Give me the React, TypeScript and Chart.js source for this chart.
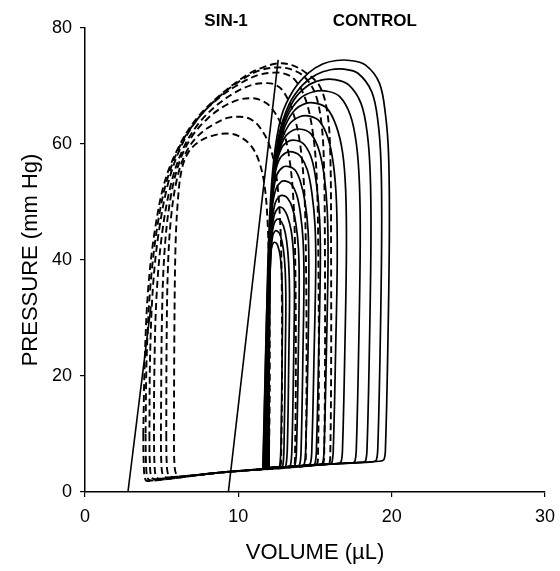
import React, { useEffect, useRef } from "react";
import { Chart, registerables } from "chart.js";
Chart.register(...registerables);

type Pt = [number, number];

// Axis settings / text
const X_RANGE = [0, 30];
const Y_RANGE = [0, 80];
const X_STEP = 10;
const Y_STEP = 20;
const X_TITLE = "VOLUME (µL)";
const Y_TITLE = "PRESSURE (mm Hg)";
const GROUP_LABELS = ["SIN-1", "CONTROL"];
const GROUP_LABEL_V = [9.2, 18.9];

// Control pressure-volume loops (solid): [volume µL, pressure mmHg]
const CONTROL_LOOPS: Pt[][] = [
  [[11.6,4.0],[15,4.7],[19.2,5.3],[19.5,5.6],[19.6,8],[19.75,25],[19.85,45],[19.8,58],[19.6,65],[19.2,70.5],[18.3,73.6],[17.3,74.4],[16.4,74.4],[15.5,73.8],[14.6,72.3],[13.6,69.3],[12.8,64.7],[12.3,57],[12.0,45],[11.8,25],[11.65,8],[11.6,4.0]],
  [[11.6,4.0],[15,4.7],[18.75,5.2],[19.0,5.5],[19.1,8],[19.25,25],[19.35,45],[19.3,57],[19.1,64],[18.7,69],[17.8,72.2],[16.9,72.9],[16.0,72.8],[15.1,72.0],[14.2,70.2],[13.3,66.8],[12.6,61],[12.2,52],[11.9,35],[11.7,15],[11.6,4.0]],
  [[11.7,4.0],[15,4.7],[18.05,5.1],[18.3,5.4],[18.4,8],[18.55,25],[18.65,44],[18.6,55],[18.4,62],[18.0,67],[17.2,70.2],[16.3,71.1],[15.4,71.0],[14.5,70.0],[13.6,67.5],[12.8,62.5],[12.3,54],[12.0,40],[11.8,20],[11.7,4.0]],
  [[11.7,4.0],[15,4.7],[17.35,5.0],[17.6,5.3],[17.7,8],[17.85,25],[17.95,43],[17.9,53],[17.7,60],[17.3,65],[16.6,68.2],[15.8,69.1],[14.9,69.0],[14.0,67.8],[13.2,64.8],[12.6,59.5],[12.2,50],[11.95,35],[11.8,18],[11.7,4.0]],
  [[11.8,4.1],[14.5,4.6],[16.45,4.9],[16.7,5.2],[16.8,8],[16.95,25],[17.05,42],[17.0,52],[16.8,58.5],[16.4,63],[15.8,66.1],[15.1,67.0],[14.4,67.0],[13.6,65.6],[12.9,62],[12.4,55.5],[12.1,45],[11.9,28],[11.8,4.1]],
  [[11.8,4.1],[14.5,4.6],[15.85,4.8],[16.1,5.1],[16.2,8],[16.35,25],[16.45,40],[16.4,50],[16.2,56.5],[15.85,61],[15.3,63.9],[14.65,64.8],[14.0,64.7],[13.3,63.3],[12.7,59.5],[12.3,53],[12.05,42],[11.9,25],[11.8,4.1]],
  [[11.8,4.1],[13.5,4.4],[15.25,4.7],[15.5,5.0],[15.6,8],[15.75,25],[15.85,40],[15.8,48.5],[15.6,54.5],[15.25,59],[14.75,61.7],[14.2,62.5],[13.6,62.4],[13.0,61],[12.5,57],[12.2,50.5],[12.0,40],[11.85,22],[11.8,4.1]],
  [[11.8,4.1],[13.5,4.4],[14.75,4.6],[15.0,4.9],[15.1,8],[15.25,25],[15.35,40],[15.3,47],[15.1,53],[14.8,57.3],[14.3,59.9],[13.8,60.6],[13.3,60.5],[12.8,59.2],[12.4,55.5],[12.15,49],[11.95,38],[11.85,20],[11.8,4.1]],
  [[11.8,4.1],[13.5,4.4],[14.45,4.6],[14.7,4.9],[14.8,8],[14.95,25],[15.05,39],[15.0,46],[14.8,51.5],[14.5,55.5],[14.05,57.9],[13.6,58.6],[13.1,58.5],[12.65,57.2],[12.3,53.5],[12.1,47],[11.95,36],[11.85,20],[11.8,4.1]],
  [[11.9,4.1],[13.2,4.3],[14.05,4.5],[14.3,4.8],[14.4,8],[14.55,25],[14.6,38],[14.55,45],[14.35,50],[14.05,53.5],[13.7,55.5],[13.3,56.1],[12.9,56.0],[12.5,54.6],[12.25,51],[12.1,45],[11.98,34],[11.92,18],[11.9,4.1]],
  [[11.9,4.1],[13.0,4.3],[13.75,4.5],[14.0,4.7],[14.1,8],[14.22,25],[14.28,37],[14.22,43.5],[14.05,48],[13.8,51.3],[13.45,53.1],[13.1,53.6],[12.8,53.5],[12.45,52.2],[12.2,48.8],[12.08,43],[11.98,32],[11.92,18],[11.9,4.1]],
  [[11.9,4.1],[12.9,4.3],[13.48,4.4],[13.7,4.7],[13.8,8],[13.92,25],[13.97,36],[13.92,42],[13.75,46.3],[13.5,49.2],[13.2,50.7],[12.95,51.1],[12.7,51.0],[12.4,49.8],[12.2,46.5],[12.08,41],[11.98,30],[11.92,16],[11.9,4.1]],
  [[11.9,4.1],[12.8,4.3],[13.2,4.4],[13.4,4.6],[13.5,8],[13.62,25],[13.66,35],[13.6,41],[13.45,45],[13.2,47.6],[12.95,48.8],[12.78,49.1],[12.6,49.0],[12.35,47.8],[12.17,44.5],[12.06,39],[11.98,28],[11.92,15],[11.9,4.1]],
  [[12.0,4.2],[12.6,4.3],[12.92,4.3],[13.1,4.5],[13.2,8],[13.3,25],[13.34,34],[13.28,39.5],[13.15,43.3],[12.95,45.8],[12.72,46.9],[12.5,47.0],[12.3,46.0],[12.15,43],[12.07,37.5],[12.02,27],[12.0,14],[12.0,4.2]],
  [[12.0,4.2],[12.5,4.3],[12.75,4.3],[12.9,4.5],[12.98,8],[13.07,25],[13.1,33],[13.05,38.5],[12.93,42],[12.75,44.2],[12.58,44.9],[12.4,45.0],[12.23,44.0],[12.12,41],[12.06,36],[12.02,26],[12.0,13],[12.0,4.2]],
  [[12.0,4.2],[12.4,4.2],[12.58,4.3],[12.7,4.5],[12.78,8],[12.86,25],[12.88,32],[12.84,37],[12.74,40.5],[12.58,42.4],[12.44,43.0],[12.3,43.0],[12.16,42.0],[12.08,39],[12.04,34],[12.01,25],[12.0,13],[12.0,4.2]],
];

// SIN-1 pressure-volume loops (dashed)
const SIN1_LOOPS: Pt[][] = [
  [[5.8,10],[5.83,5],[5.95,3.1],[6.3,2.7],[9,3.4],[11.75,4.0],[11.95,4.4],[12.0,7],[12.05,20],[12.0,38],[11.9,47],[11.7,53],[11.35,57],[10.8,59.8],[10.0,61.4],[9.3,61.8],[8.4,61.5],[7.5,60.5],[6.75,58.6],[6.3,55.5],[6.05,50],[5.9,42],[5.83,28],[5.8,10]],
  [[5.3,10],[5.33,5],[5.45,2.9],[5.8,2.6],[9,3.4],[12.55,4.2],[12.75,4.5],[12.8,7],[12.85,20],[12.82,38],[12.7,48],[12.45,55],[12.0,60],[11.3,63.2],[10.7,64.4],[10.1,64.7],[9.3,64.5],[8.4,63.4],[7.4,61.5],[6.6,58.6],[6.0,54],[5.6,47],[5.4,38],[5.32,25],[5.3,10]],
  [[4.95,10],[4.98,5],[5.1,2.8],[5.45,2.5],[9,3.4],[13.45,4.3],[13.65,4.6],[13.7,7],[13.75,20],[13.72,38],[13.6,50],[13.3,58],[12.8,63.3],[12.1,66.4],[11.5,67.5],[10.9,67.9],[10.0,67.6],[9.0,66.4],[8.0,64.4],[7.0,61.4],[6.2,57.2],[5.6,51],[5.2,42],[5.02,30],[4.95,10]],
  [[4.5,10],[4.53,5],[4.65,2.6],[5.0,2.3],[9,3.4],[14.15,4.4],[14.35,4.7],[14.4,7],[14.45,20],[14.42,38],[14.3,52],[14.0,60.5],[13.5,66],[12.9,69.2],[12.35,70.3],[11.8,70.5],[10.9,70.2],[9.8,68.9],[8.6,66.7],[7.4,63.5],[6.4,59.2],[5.6,53],[5.0,44],[4.65,33],[4.52,20],[4.5,10]],
  [[4.2,10],[4.23,5],[4.35,2.5],[4.7,2.2],[9,3.4],[14.95,4.6],[15.15,4.9],[15.2,7],[15.25,20],[15.22,40],[15.1,55],[14.8,63],[14.3,68.3],[13.6,71.3],[12.9,72.2],[12.3,72.3],[11.3,71.9],[10.1,70.4],[8.8,68.1],[7.5,64.8],[6.4,60.3],[5.5,54],[4.85,45.5],[4.45,36],[4.25,24],[4.2,10]],
  [[3.95,10],[3.98,5],[4.1,2.3],[4.45,2.0],[9,3.4],[15.35,4.7],[15.55,5.0],[15.6,7],[15.65,20],[15.65,40],[15.58,57],[15.4,64],[15.0,68.8],[14.3,71.6],[13.4,72.9],[12.5,73.2],[11.4,72.7],[10.3,71.2],[8.9,68.5],[7.5,64.8],[6.3,60.2],[5.35,53.8],[4.7,45.5],[4.25,35],[4.02,23],[3.95,10]],
  [[3.8,10],[3.83,5],[3.95,2.1],[4.3,1.9],[9,3.4],[15.75,4.8],[15.95,5.1],[16.0,7],[16.05,20],[16.05,40],[16.0,58],[15.8,65.5],[15.3,70],[14.4,72.3],[13.5,73.6],[12.6,73.9],[11.5,73.1],[10.5,71.8],[8.8,68.4],[7.25,64.3],[6.15,59.7],[5.2,53.5],[4.55,45],[4.12,35],[3.9,23],[3.8,10]],
];

// End-systolic pressure-volume relation lines
const CONTROL_ESPVR: Pt[] = [[9.35, 0], [12.6, 74.5]];
const SIN1_ESPVR: Pt[] = [[2.8, 0], [4.3, 32]];

const FONT = "'Liberation Sans', Arial, Helvetica, sans-serif";

const toXY = (pts: Pt[]) => pts.map(([x, y]) => ({ x, y }));

export default function App() {
  const ref = useRef<HTMLCanvasElement | null>(null);

  useEffect(() => {
    if (!ref.current) return;
    const base = {
      showLine: true,
      borderColor: "#000",
      pointRadius: 0,
      pointHoverRadius: 0,
      fill: false,
    };
    const datasets: any[] = [];
    SIN1_LOOPS.forEach((loop) =>
      datasets.push({ ...base, data: toXY(loop), borderWidth: 1.9, borderDash: [7, 4], tension: 0.35 })
    );
    CONTROL_LOOPS.forEach((loop) =>
      datasets.push({ ...base, data: toXY(loop), borderWidth: 1.7, tension: 0.35 })
    );
    datasets.push({ ...base, data: toXY(CONTROL_ESPVR), borderWidth: 1.6, tension: 0 });
    datasets.push({ ...base, data: toXY(SIN1_ESPVR), borderWidth: 1.6, tension: 0 });

    const textPlugin = {
      id: "texts",
      afterDraw(chart: any) {
        const { ctx, chartArea, scales } = chart;
        ctx.save();
        ctx.fillStyle = "#000";
        ctx.textAlign = "center";
        ctx.textBaseline = "middle";
        ctx.font = `bold 17px ${FONT}`;
        GROUP_LABELS.forEach((t, i) => {
          ctx.fillText(t, scales.x.getPixelForValue(GROUP_LABEL_V[i]), chartArea.top - 7);
        });
        ctx.font = `22px ${FONT}`;
        ctx.fillText(X_TITLE, (chartArea.left + chartArea.right) / 2, 553);
        ctx.translate(31, (chartArea.top + chartArea.bottom) / 2);
        ctx.rotate(-Math.PI / 2);
        ctx.fillText(Y_TITLE, 0, 0);
        ctx.restore();
      },
    };

    const chart = new Chart(ref.current, {
      type: "scatter",
      data: { datasets },
      options: {
        animation: false,
        responsive: false,
        maintainAspectRatio: false,
        layout: { padding: { top: 28, right: 15, left: 0, bottom: 0 } },
        plugins: { legend: { display: false }, tooltip: { enabled: false }, title: { display: false } },
        scales: {
          x: {
            type: "linear",
            min: X_RANGE[0],
            max: X_RANGE[1],
            afterFit: (s: any) => { s.height = 79; s.paddingLeft = 0; s.paddingRight = 0; },
            border: { display: true, color: "#000", width: 1.5 },
            grid: { display: true, drawOnChartArea: false, drawTicks: true, tickLength: 5, color: "#000", lineWidth: 1.2 },
            ticks: { stepSize: X_STEP, color: "#000", padding: 9, font: { family: FONT, size: 18 }, maxRotation: 0 },
          },
          y: {
            type: "linear",
            min: Y_RANGE[0],
            max: Y_RANGE[1],
            afterFit: (s: any) => { s.width = 85; },
            border: { display: true, color: "#000", width: 1.5 },
            grid: { display: true, drawOnChartArea: false, drawTicks: true, tickLength: 5, color: "#000", lineWidth: 1.2 },
            ticks: { stepSize: Y_STEP, color: "#000", padding: 8, font: { family: FONT, size: 18 } },
          },
        },
      },
      plugins: [textPlugin],
    });
    return () => chart.destroy();
  }, []);

  return (
    <div style={{ position: "fixed", left: 0, top: 0, width: 560, height: 571, background: "#fff" }}>
      <canvas ref={ref} width={560} height={571} style={{ display: "block" }} />
    </div>
  );
}
